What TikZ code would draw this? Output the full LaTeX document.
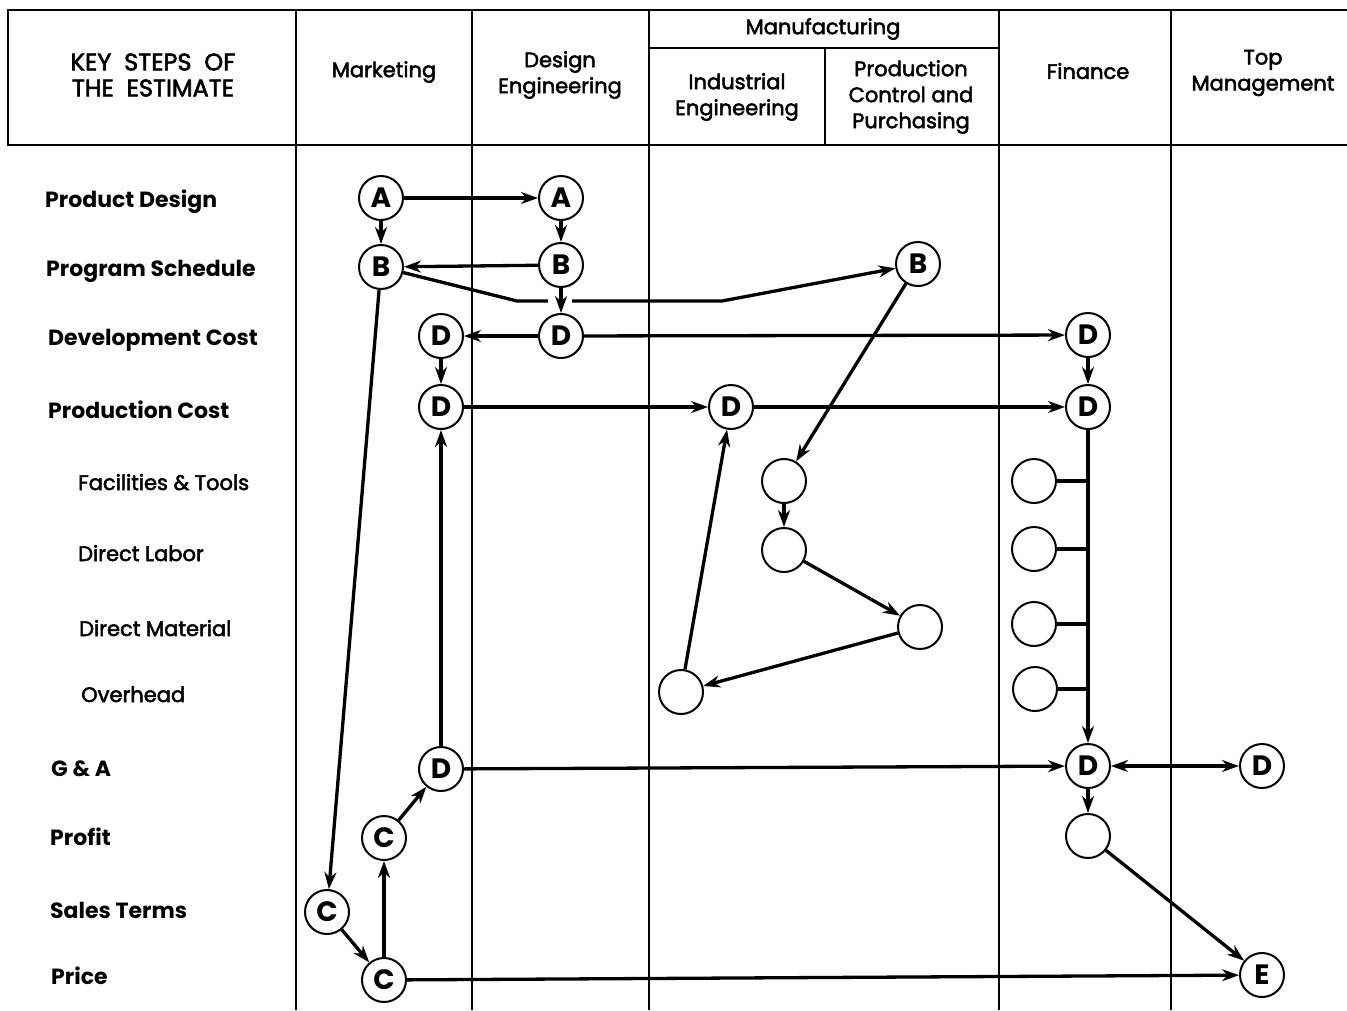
\documentclass[tikz,border=0pt]{standalone}
\usepackage{fontspec}
\setmainfont{Poppins}
\newfontfamily\headfont{Poppins}[FakeBold=2.4]
\usetikzlibrary{arrows.meta}
\tikzset{
  lane/.style={line width=1.4pt},
  frame/.style={line width=2.4pt},
  stepc/.style={circle, draw, line width=2pt, minimum size=44pt, inner sep=0pt, font=\fontsize{28}{28}\selectfont\bfseries},
  flow/.style={line width=3.3pt, -{Stealth[length=17pt,width=12pt]}},
  both/.style={line width=3.3pt, {Stealth[length=17pt,width=12pt]}-{Stealth[length=17pt,width=12pt]}},
  tie/.style={line width=3.3pt},
  head/.style={align=center, font=\fontsize{21}{26}\selectfont\headfont},
  rowb/.style={anchor=base west, inner sep=0pt, font=\fontsize{22}{24}\selectfont\bfseries},
  rowp/.style={anchor=base west, inner sep=0pt, font=\fontsize{21}{24}\selectfont\headfont},
}
\begin{document}
\begin{tikzpicture}[x=1pt,y=-1pt]
\useasboundingbox (0,0) rectangle (1347,1010);
\draw[frame] (1347,10) -- (8,10) -- (8,145) -- (1347,145);
\draw[frame] (649,48) -- (999,48);
\draw[frame] (825,48) -- (825,145);
\foreach \x in {296,472,649,999,1171} \draw[lane] (\x,10) -- (\x,1010);
\node[head, font=\fontsize{24}{26}\selectfont\headfont] (hkey) at (153,75) {KEY\ \ STEPS\ \ OF\\THE\ \ ESTIMATE};
\node[head] (hmkt) at (384,72) {Marketing};
\node[head] (hdes) at (560,75) {Design\\Engineering};
\node[head] (hmfg) at (823,29) {Manufacturing};
\node[head] (hind) at (737,97) {Industrial\\Engineering};
\node[head] (hpcp) at (911,97) {Production\\Control and\\Purchasing};
\node[head] (hfin) at (1088,71) {Finance};
\node[head] (htop) at (1263,73) {Top\\Management};
\node[rowb] (rdes) at (45,207) {Product Design};
\node[rowb] (rsch) at (46,276) {Program Schedule};
\node[rowb] (rdev) at (48,345) {Development Cost};
\node[rowb] (rpro) at (48,418) {Production Cost};
\node[rowp] (rfac) at (78,490) {Facilities \& Tools};
\node[rowp] (rlab) at (78,561) {Direct Labor};
\node[rowp] (rmat) at (79,636) {Direct Material};
\node[rowp] (rovh) at (81,702) {Overhead};
\node[rowb] (rga) at (51,776) {G \& A};
\node[rowb] (rpft) at (50,845) {Profit};
\node[rowb] (rsal) at (50,918) {Sales Terms};
\node[rowb] (rpri) at (51,984) {Price};
\node[stepc] (mA) at (381,198) {A};
\node[stepc] (eA) at (561,198) {A};
\node[stepc] (mB) at (381,267) {B};
\node[stepc] (eB) at (561,265) {B};
\node[stepc] (pB) at (918,264) {B};
\node[stepc] (mD1) at (441,336) {D};
\node[stepc] (eD) at (561,336) {D};
\node[stepc] (fD1) at (1088,335) {D};
\node[stepc] (mD2) at (441,407) {D};
\node[stepc] (iD) at (731,407) {D};
\node[stepc] (fD2) at (1088,407) {D};
\node[stepc] (pfac) at (784,481) {};
\node[stepc] (plab) at (784,550) {};
\node[stepc] (pmat) at (920,627) {};
\node[stepc] (iovh) at (681,692) {};
\node[stepc] (ffac) at (1034,481) {};
\node[stepc] (flab) at (1034,549) {};
\node[stepc] (fmat) at (1034,624) {};
\node[stepc] (fovh) at (1035,689) {};
\node[stepc] (mD3) at (441,769) {D};
\node[stepc] (fD3) at (1088,766) {D};
\node[stepc] (tD) at (1262,766) {D};
\node[stepc] (fpft) at (1088,836) {};
\node[stepc] (mC1) at (384,838) {C};
\node[stepc] (mC2) at (327,912) {C};
\node[stepc] (mC3) at (384,980) {C};
\node[stepc] (tE) at (1262,975) {E};
\coordinate (schL) at (517,301);
\coordinate (schG) at (548,301);
\coordinate (schR) at (572,301);
\coordinate (schM) at (722,301);
\draw[flow] (mA) -- (eA);
\draw[flow] (mA) -- (mB);
\draw[flow] (eA) -- (eB);
\draw[flow] (eB) -- (mB);
\draw[tie] (mB) -- (schL) -- (schG);
\draw[flow] (schR) -- (schM) -- (pB);
\draw[flow] (eB) -- (eD);
\draw[flow] (eD) -- (mD1);
\draw[flow] (eD) -- (fD1);
\draw[flow] (mD1) -- (mD2);
\draw[flow] (fD1) -- (fD2);
\draw[flow] (mD2) -- (iD);
\draw[flow] (iD) -- (fD2);
\draw[flow] (pB) -- (pfac);
\draw[flow] (pfac) -- (plab);
\draw[flow] (plab) -- (pmat);
\draw[flow] (pmat) -- (iovh);
\draw[flow] (iovh) -- (iD);
\draw[flow] (fD2) -- (fD3);
\foreach \n in {ffac,flab,fmat,fovh} \draw[tie] (\n.east) -- (\n.east -| fD2);
\draw[flow] (mD3) -- (mD2);
\draw[flow] (mD3) -- (fD3);
\draw[both] (fD3) -- (tD);
\draw[flow] (fD3) -- (fpft);
\draw[flow] (fpft) -- (tE);
\draw[flow] (mB) -- (mC2);
\draw[flow] (mC2) -- (mC3);
\draw[flow] (mC3) -- (mC1);
\draw[flow] (mC1) -- (mD3);
\draw[flow] (mC3) -- (tE);
\end{tikzpicture}
\end{document}
